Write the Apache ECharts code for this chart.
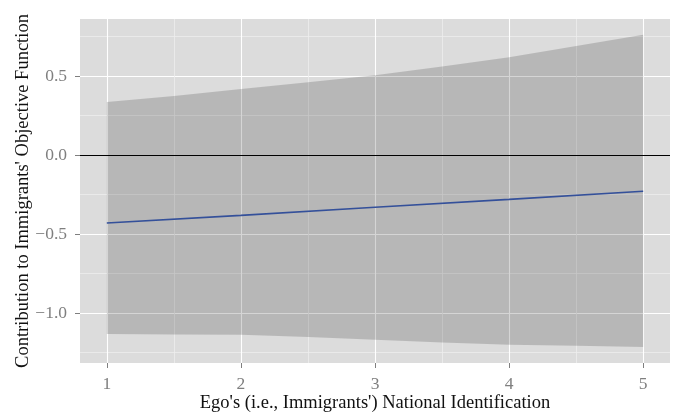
<!DOCTYPE html>
<html>
<head>
<meta charset="utf-8">
<script src="https://cdn.jsdelivr.net/npm/echarts@6/dist/echarts.min.js"></script>
<style>
html,body{margin:0;padding:0;background:#fff;}
#c{width:676px;height:412px;}
</style>
</head>
<body>
<div id="c"></div>
<script>
// Data
const xValues = [1, 1.5, 2, 2.5, 3, 3.5, 4, 4.5, 5];
const upperValues = [0.335, 0.373, 0.418, 0.46, 0.504, 0.559, 0.618, 0.69, 0.761];
const lowerValues = [-1.133, -1.135, -1.137, -1.152, -1.169, -1.186, -1.2, -1.207, -1.215];
const fitX = [1, 2, 3, 4, 5];
const fitValues = [-0.43, -0.382, -0.331, -0.281, -0.23];
const xTicks = [1, 2, 3, 4, 5];
const xMinor = [1.5, 2.5, 3.5, 4.5];
const yTicks = [-1.0, -0.5, 0.0, 0.5];
const yMinor = [-1.25, -0.75, -0.25, 0.25, 0.75];

const FONT = "'Liberation Serif', 'DejaVu Serif', serif";
const chart = echarts.init(document.getElementById('c'), null, {renderer: 'canvas'});

function fmtY(v) {
  const s = Math.abs(v).toFixed(1);
  return v < 0 ? '\u2212' + s : s;
}

const xBase = {min: 0.8, max: 5.2, type: 'value'};
const yBase = {min: -1.316, max: 0.86, type: 'value'};

const option = {
  animation: false,
  grid: {left: 80, right: 6, top: 19, bottom: 49, show: true, backgroundColor: '#DCDCDC', borderWidth: 0,
         containLabel: false, outerBoundsMode: 'none'},
  xAxis: [
    Object.assign({}, xBase, {
      position: 'bottom',
      axisLine: {show: false, onZero: false},
      axisTick: {show: false, customValues: xMinor},
      axisLabel: {show: false, customValues: xMinor},
      splitLine: {show: true, lineStyle: {color: '#EDEDED', width: 0.8}}
    }),
    Object.assign({}, xBase, {
      position: 'bottom',
      name: "Ego's (i.e., Immigrants') National Identification",
      nameLocation: 'middle',
      nameGap: 31,
      nameMoveOverlap: false,
      nameTextStyle: {fontFamily: FONT, fontSize: 18.5, color: '#111'},
      axisLine: {show: false, onZero: false},
      axisTick: {show: true, length: 5, customValues: xTicks, lineStyle: {color: '#7F7F7F', width: 1}},
      axisLabel: {customValues: xTicks, margin: 12, fontFamily: FONT, fontSize: 17.5, color: '#7F7F7F'},
      splitLine: {show: true, lineStyle: {color: '#FFFFFF', width: 1.1}}
    })
  ],
  yAxis: [
    Object.assign({}, yBase, {
      position: 'left',
      axisLine: {show: false, onZero: false},
      axisTick: {show: false, customValues: yMinor},
      axisLabel: {show: false, customValues: yMinor},
      splitLine: {show: true, lineStyle: {color: '#EDEDED', width: 0.8}}
    }),
    Object.assign({}, yBase, {
      position: 'left',
      name: "Contribution to Immigrants' Objective Function",
      nameLocation: 'middle',
      nameGap: 47,
      nameMoveOverlap: false,
      nameTextStyle: {fontFamily: FONT, fontSize: 18.5, color: '#111'},
      axisLine: {show: false, onZero: false},
      axisTick: {show: true, length: 5, customValues: yTicks, lineStyle: {color: '#7F7F7F', width: 1}},
      axisLabel: {customValues: yTicks, margin: 13, fontFamily: FONT, fontSize: 17.5, color: '#7F7F7F', formatter: fmtY},
      splitLine: {show: true, lineStyle: {color: '#FFFFFF', width: 1.1}}
    })
  ],
  series: [
    {
      type: 'custom',
      xAxisIndex: 1,
      yAxisIndex: 1,
      silent: true,
      z: 2,
      data: [[0]],
      renderItem: function (params, api) {
        const pts = [];
        for (let i = 0; i < xValues.length; i++) pts.push(api.coord([xValues[i], upperValues[i]]));
        for (let i = xValues.length - 1; i >= 0; i--) pts.push(api.coord([xValues[i], lowerValues[i]]));
        return {type: 'polygon', shape: {points: pts}, style: {fill: 'rgba(0,0,0,0.165)'}};
      }
    },
    {
      type: 'line',
      xAxisIndex: 1,
      yAxisIndex: 1,
      z: 4,
      symbol: 'none',
      data: fitX.map((x, i) => [x, fitValues[i]]),
      lineStyle: {color: '#34509A', width: 1.6},
      markLine: {
        silent: true,
        symbol: 'none',
        label: {show: false},
        lineStyle: {color: '#000', width: 1, type: 'solid'},
        data: [{yAxis: 0}]
      }
    }
  ]
};
chart.setOption(option);
</script>
</body>
</html>
